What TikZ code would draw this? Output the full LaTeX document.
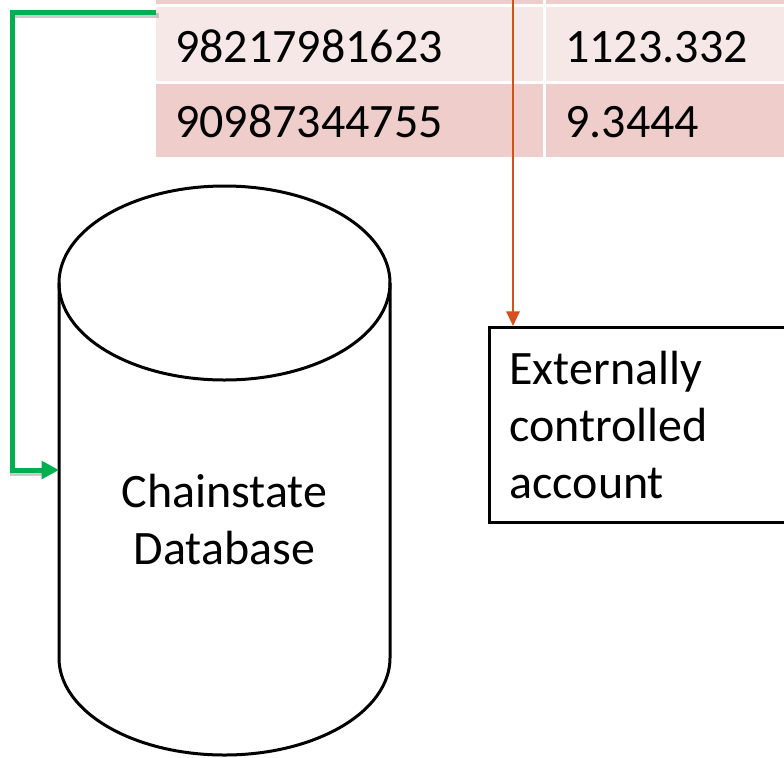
\documentclass[tikz,border=0pt]{standalone}
\usepackage{fontspec}
\setmainfont{Carlito}
\usetikzlibrary{arrows.meta, calc}
\definecolor{rowdark}{HTML}{EFCDCB}
\definecolor{rowlight}{HTML}{F6E8E7}
\definecolor{linkgreen}{HTML}{00B050}
\definecolor{linkorange}{HTML}{D4501F}
\tikzset{
  txt/.style={font=\fontsize{36pt}{42.75pt}\selectfont, inner sep=0pt},
  greenlink/.style={linkgreen, line width=3.75pt, -{Triangle[length=13pt,width=13pt]}},
  orangelink/.style={linkorange, line width=1.5pt, -{Triangle[length=11pt,width=10pt]}}
}
\begin{document}
\begin{tikzpicture}[x=0.75pt,y=-0.75pt]
    \useasboundingbox (0,0) rectangle (784,757);
    \clip (0,0) rectangle (784,757);
    % Table rows
    \fill[rowdark] (156,-20) rectangle (543,4);
    \fill[rowdark] (546,-20) rectangle (800,4);
    \fill[rowlight] (156,7) rectangle (543,81);
    \fill[rowlight] (546,7) rectangle (800,81);
    \fill[rowdark] (156,84) rectangle (543,157);
    \fill[rowdark] (546,84) rectangle (800,157);
    \node[txt, anchor=base west] (acct1) at (175,62) {98217981623};
    \node[txt, anchor=base west] (bal1) at (565,62) {1123.332};
    \node[txt, anchor=base west] (acct2) at (175,137) {90987344755};
    \node[txt, anchor=base west] (bal2) at (565,137) {9.3444};
    % Database
    \draw[line width=2.25pt] (224.5,283) ellipse[x radius=165.5, y radius=97];
    \draw[line width=2.25pt] (59,283) -- (59,658)
        arc[start angle=180, end angle=0, x radius=165.5, y radius=97] -- (390,283);
    \node[txt, align=center, anchor=base] (db) at (224.5,564) {Chainstate\\Database};
    % Externally controlled account
    \node[txt, draw, line width=2.25pt, anchor=north west, align=left,
          text width=202.5pt, inner xsep=15pt, minimum height=146.25pt] (eoa) at (488,326)
          {Externally\\controlled\\account};
    % Links
    \coordinate (tblleft) at (156,12);
    \coordinate (dbin) at (59,470);
    \coordinate (feed) at (513,-10);
    \draw[black!35, line width=3.75pt, opacity=.6] ($(tblleft)+(3,3)$) -| ($(dbin)+(-47,3)$) -- ($(dbin)+(-12,3)$);
    \draw[greenlink] (tblleft) -| ($(dbin)+(-47,0)$) -- (dbin);
    \draw[orangelink] (feed) -- (feed |- eoa.north);
\end{tikzpicture}
\end{document}
